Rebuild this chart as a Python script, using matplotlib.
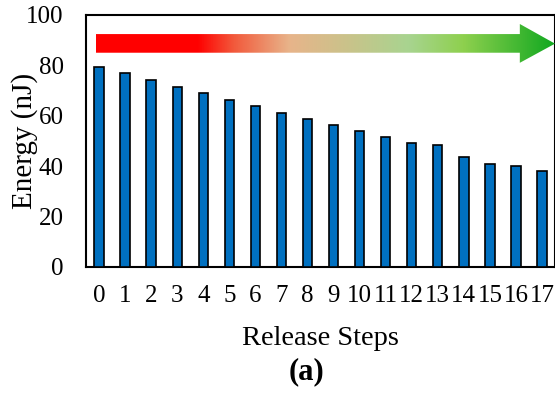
import numpy as np
import matplotlib
matplotlib.use('Agg')
import matplotlib.pyplot as plt
from matplotlib.colors import LinearSegmentedColormap
from matplotlib.patches import Polygon

plt.rcParams['font.family'] = ['Liberation Serif', 'DejaVu Serif']

# data
steps = list(range(18))
energy = [79.2, 76.8, 74.1, 71.3, 68.9, 66.1, 63.8, 61.2, 58.9,
          56.3, 54.0, 51.5, 49.1, 48.4, 43.8, 40.9, 39.9, 38.1]
tick_labels = [str(s) for s in steps]

fig = plt.figure(figsize=(5.55, 4.03), dpi=100)
ax = fig.add_axes([0.155, 0.3375, 0.845, 0.6255])

ax.bar(steps, energy, width=0.36, color='#0070C0', edgecolor='black',
       linewidth=1.2, zorder=3)

ax.set_xlim(-0.5, 17.5)
ax.set_ylim(0, 100)
ax.set_yticks([0, 20, 40, 60, 80, 100])
ax.set_xticks(steps)
ax.set_xticklabels(tick_labels)
ax.tick_params(axis='both', length=0, labelsize=18)
ax.tick_params(axis='y', pad=16)
ax.tick_params(axis='x', pad=13)
for sp in ax.spines.values():
    sp.set_linewidth(1.5)

# axis titles placed by hand to match the reference
fig.text(0.045, 0.65, 'Energy (nJ)', fontsize=21, rotation=90,
         ha='center', va='center')
fig.text(0.577, 0.161, 'Release Steps', fontsize=20.5, ha='center', va='center')
fig.text(0.553, 0.077, '(a)', fontsize=22, fontweight='bold',
         ha='center', va='center')

# gradient arrow (red -> green) across the top
cmap = LinearSegmentedColormap.from_list('rg', [
    (0.0, '#FF0000'), (0.22, '#FF0000'), (0.30, '#F25A3C'),
    (0.42, '#E8B48A'), (0.55, '#C9C38A'), (0.68, '#A8D490'),
    (0.80, '#8ED04E'), (1.0, '#10A820')])
x0, xh, xt = -0.12, 16.15, 17.5
arrow = Polygon([[x0, 85.0], [xh, 85.0], [xh, 81.0], [xt, 88.6],
                 [xh, 96.4], [xh, 92.4], [x0, 92.4]],
                closed=True, transform=ax.transData, facecolor='none',
                edgecolor='none')
ax.add_patch(arrow)
grad = np.linspace(0, 1, 256).reshape(1, -1)
im = ax.imshow(grad, cmap=cmap, aspect='auto', extent=[x0, xt, 81.0, 96.4],
               zorder=4)
im.set_clip_path(arrow)
ax.set_xlim(-0.5, 17.5)
ax.set_ylim(0, 100)

fig.savefig('out.png', dpi=100)
